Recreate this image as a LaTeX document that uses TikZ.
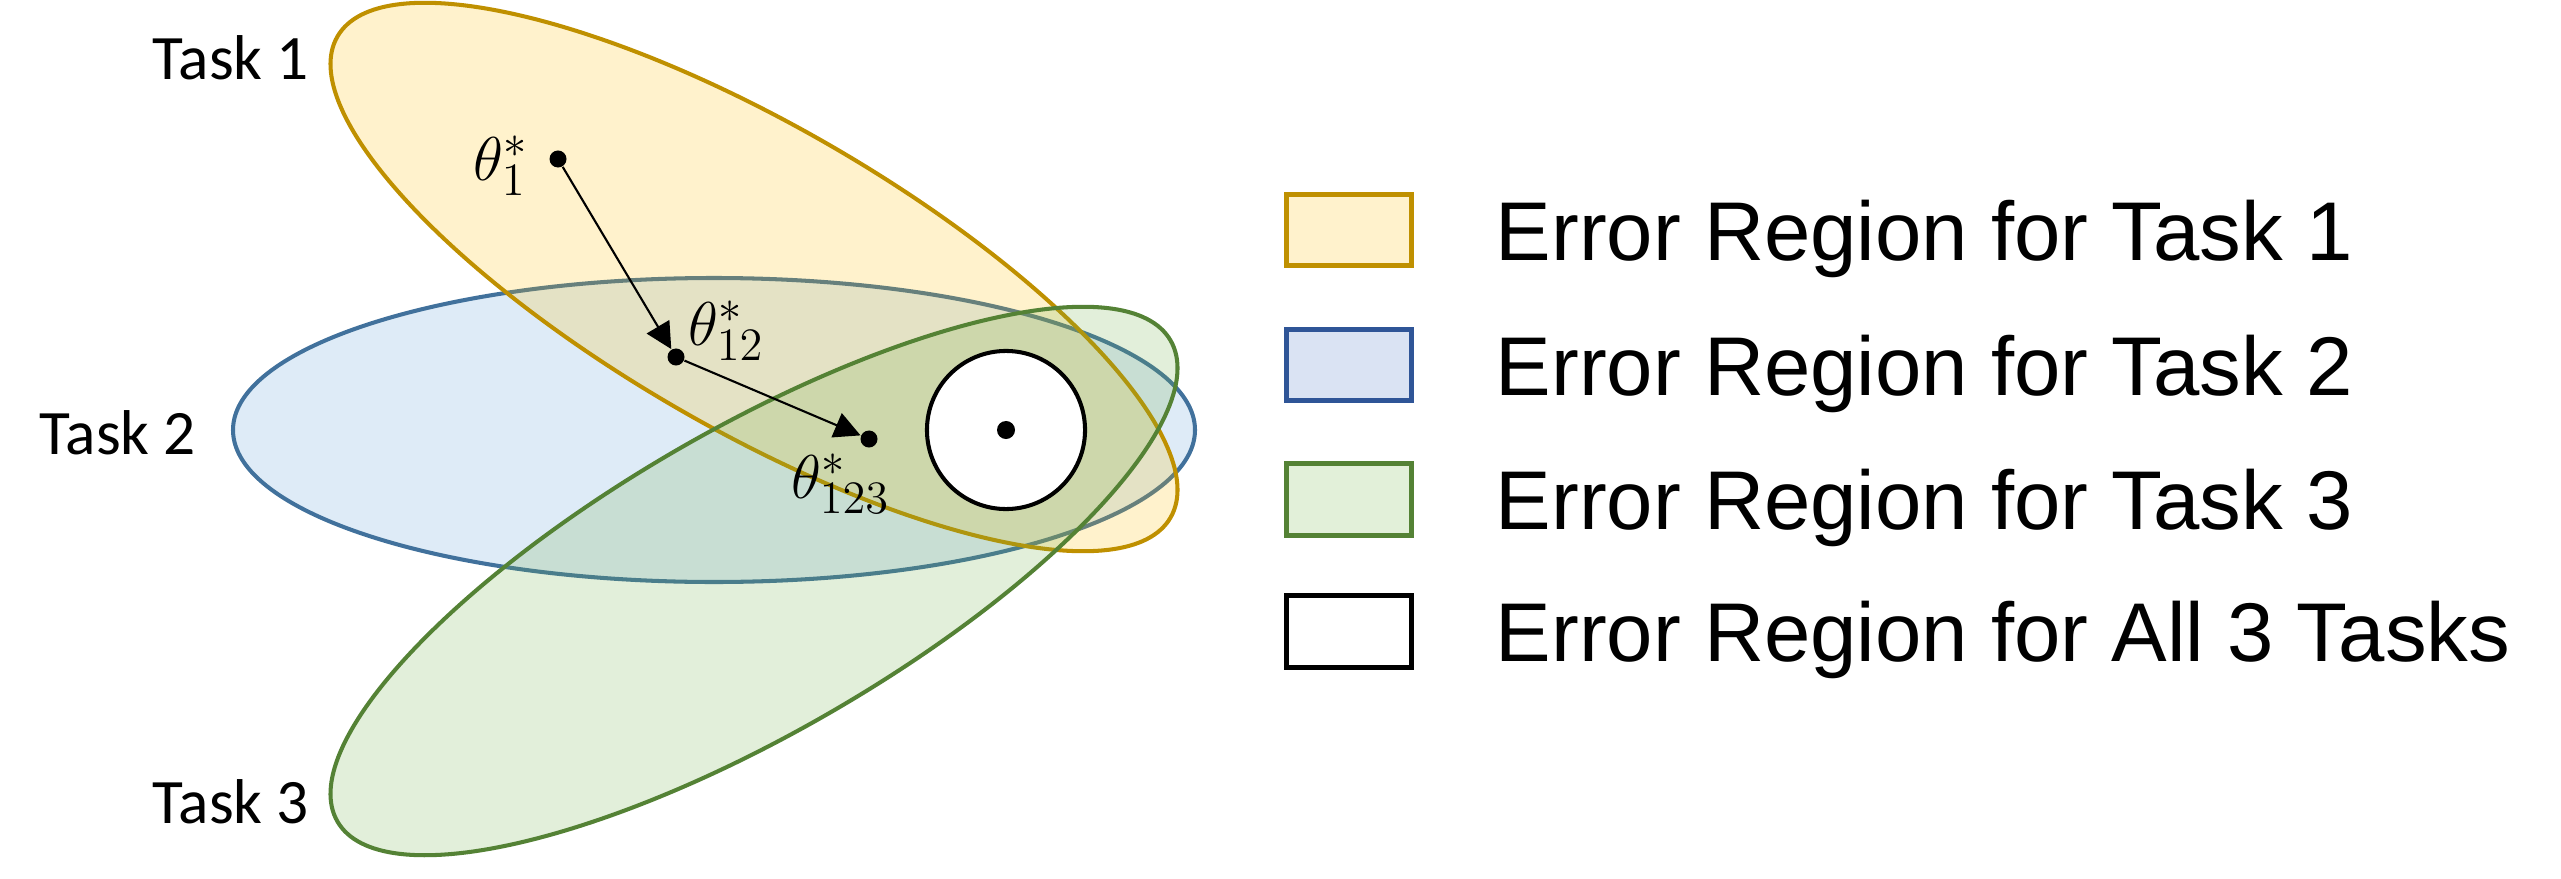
\RequirePackage{fix-cm}
\documentclass[tikz,border=0pt]{standalone}
\usepackage{fontspec}
\usetikzlibrary{arrows.meta}
\newfontfamily\legfontfam{Liberation Sans}
\newfontfamily\taskfam{Carlito}
\DeclareMathSizes{17.6}{17.6}{13.2}{10}
\newcommand\legfont{\legfontfam\fontsize{23.7}{28}\selectfont}
\newcommand\taskfont{\taskfam\fontsize{18}{21}\selectfont}
\newcommand\mathsize{\fontsize{17.6}{21}\selectfont}
\definecolor{yfill}{HTML}{FFC000}
\definecolor{yline}{HTML}{BF9000}
\definecolor{bfill}{HTML}{5B9BD5}
\definecolor{bline}{HTML}{41719C}
\definecolor{gfill}{HTML}{70AD47}
\definecolor{gline}{HTML}{548235}
\definecolor{lyfill}{HTML}{FFF2CC}
\definecolor{lbfill}{HTML}{DAE3F3}
\definecolor{lbline}{HTML}{2F5597}
\definecolor{lgfill}{HTML}{E2F0D9}
\begin{document}
\begin{tikzpicture}[x=0.01cm, y=-0.01cm,
  region/.style={line width=1.15pt, fill opacity=0.2},
  pt/.style={circle, fill=black, inner sep=0pt, minimum size=0.17cm},
  mv/.style={line width=0.6pt, -{Triangle[length=7.4pt, width=7.4pt]}},
  lbox/.style={draw, line width=1.42pt, minimum width=1.25cm, minimum height=0.71cm, inner sep=0pt},
  ltext/.style={anchor=base west, inner sep=0pt, font=\legfont},
  tlabel/.style={anchor=base, inner sep=0pt, font=\taskfont},
  mlabel/.style={anchor=base west, inner sep=0pt, font=\mathsize}]
\useasboundingbox (0,0) rectangle (2561,879);
% regions
\draw[region, draw=bline, fill=bfill] (714,430) ellipse [x radius=481, y radius=152];
\draw[region, draw=yline, fill=yfill, rotate around={-30:(754,277)}] (754,277) ellipse [x radius=481, y radius=152];
\draw[region, draw=gline, fill=gfill, rotate around={30:(754,581)}] (754,581) ellipse [x radius=481, y radius=152];
% optimum region
\node[circle, draw, line width=1.15pt, fill=white, minimum size=1.58cm, inner sep=0pt] (opt) at (1006,430) {};
\node[circle, fill=black, inner sep=0pt, minimum size=0.18cm] (c) at (1006,430) {};
% points and moves
\node[pt] (d1) at (558,159) {};
\node[pt] (d12) at (676,357) {};
\node[pt] (d123) at (869,439) {};
\draw[mv] (d1) -- (d12);
\draw[mv] (d12) -- (d123);
\node[mlabel] (t1) at (473,180) {$\theta^*_1$};
\node[mlabel] (t12) at (688,345) {$\theta^*_{12}$};
\node[mlabel] (t123) at (791,498) {$\theta^*_{123}$};
% task labels
\node[tlabel] (k1) at (231,80) {Task 1};
\node[tlabel] (k2) at (118,454) {Task 2};
\node[tlabel] (k3) at (231,823) {Task 3};
% legend
\node[lbox, draw=yline, fill=lyfill] (b1) at (1349,230) {};
\node[lbox, draw=lbline, fill=lbfill] (b2) at (1349,365) {};
\node[lbox, draw=gline, fill=lgfill] (b3) at (1349,499.5) {};
\node[lbox, draw=black, fill=white] (b4) at (1349,631.5) {};
\node[ltext] (e1) at (1495,260) {Error Region for Task 1};
\node[ltext] (e2) at (1495,395) {Error Region for Task 2};
\node[ltext] (e3) at (1495,529.5) {Error Region for Task 3};
\node[ltext] (e4) at (1495,661.5) {Error Region for All 3 Tasks};
\end{tikzpicture}
\end{document}
